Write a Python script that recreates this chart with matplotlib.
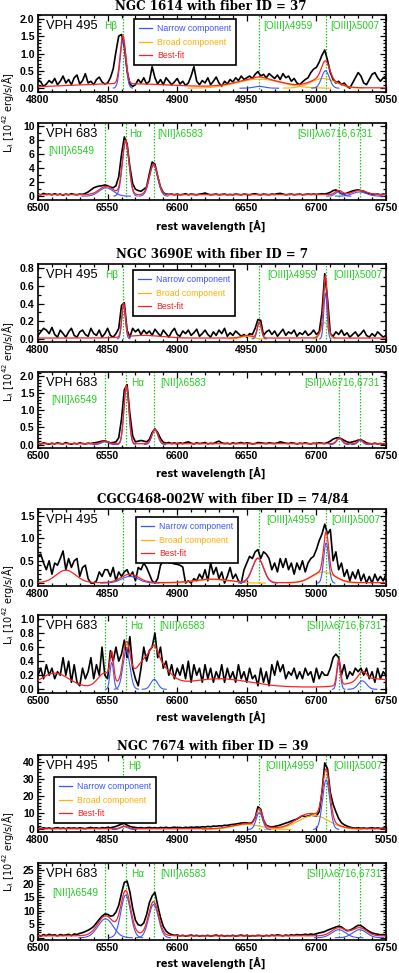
import numpy as np
import matplotlib
matplotlib.use('Agg')
import matplotlib.pyplot as plt
from matplotlib.ticker import MultipleLocator, FormatStrFormatter
from matplotlib.lines import Line2D

# ---------------- data ----------------
STEP = 2.0  # sampling of the observed spectra (Angstrom)

p1_flux = [  # NGC 1614, VPH 495, from 4800
    0.25, 0.18, 0.05, 0.12, 0.22, 0.15, 0.28, 0.10, 0.20, 0.35,
    0.15, 0.25, 0.10, 0.30, 0.38, 0.12, 0.22, 0.42, 0.15, 0.20,
    0.10, 0.25, 0.32, 0.18, 0.12, 0.15, 0.30, 0.55, 1.05, 1.50,
    1.55, 1.20, 0.50, 0.12, 0.05, 0.10, 0.25, 0.15, 0.30, 0.12,
    0.20, 0.62, 0.30, 0.12, 0.25, 0.10, 0.30, 0.20, 0.10, 0.18,
    0.28, 0.12, 0.20, 0.08, 0.15, 0.35, 0.62, 0.20, 0.10, 0.22,
    0.15, 0.30, 0.10, 0.20, 0.32, 0.15, 0.05, 0.20, 0.12, 0.25,
    0.18, 0.30, 0.22, 0.35, 0.25, 0.30, 0.35, 0.28, 0.40, 0.48,
    0.35, 0.40, 0.30, 0.42, 0.35, 0.28, 0.38, 0.25, 0.42, 0.30,
    0.35, 0.20, 0.28, 0.15, 0.10, 0.18, 0.25, 0.30, 0.45, 0.55,
    0.60, 0.75, 0.95, 1.10, 0.80, 0.45, 0.25, 0.15, 0.20, 0.10,
    0.15, 0.05, 0.00, 0.15, 0.30, 0.45, 0.35, 0.15, 0.10, 0.25,
    0.40, 0.45, 0.30, 0.20, 0.30, 0.35]
p2_flux = [  # NGC 1614, VPH 683, from 6500
    0.30, 0.20, 0.40, 0.25, 0.30, 0.20, 0.35, 0.20, 0.30, 0.15,
    0.30, 0.20, 0.35, 0.25, 0.20, 0.30, 0.25, 0.40, 0.60, 0.90,
    1.20, 1.35, 1.45, 1.50, 1.60, 1.50, 1.30, 1.20, 1.50, 2.80,
    6.00, 8.50, 7.50, 4.20, 1.80, 1.00, 0.80, 0.70, 1.00, 1.30,
    3.20, 4.90, 4.60, 2.80, 1.30, 0.50, 0.30, 0.25, 0.30, 0.20,
    0.30, 0.20, 0.25, 0.35, 0.20, 0.30, 0.25, 0.20, 0.30, 0.35,
    0.45, 0.30, 0.20, 0.25, 0.30, 0.20, 0.25, 0.30, 0.20, 0.25,
    0.20, 0.30, 0.25, 0.20, 0.30, 0.25, 0.20, 0.30, 0.35, 0.25,
    0.20, 0.30, 0.25, 0.20, 0.30, 0.25, 0.35, 0.40, 0.30, 0.20,
    0.25, 0.30, 0.20, 0.25, 0.30, 0.20, 0.25, 0.30, 0.25, 0.30,
    0.25, 0.30, 0.35, 0.30, 0.40, 0.55, 0.80, 0.90, 0.70, 0.35,
    0.30, 0.45, 0.60, 0.75, 0.85, 0.90, 0.80, 0.70, 0.50, 0.35,
    0.30, 0.25, 0.30, 0.20, 0.30, 0.25]
p3_flux = [  # NGC 3690E, VPH 495
    0.04, 0.08, 0.12, 0.10, 0.06, 0.13, 0.05, 0.02, 0.10, 0.06,
    0.02, 0.08, 0.12, 0.04, 0.02, 0.08, 0.10, 0.05, 0.03, 0.12,
    0.06, 0.04, 0.10, 0.02, 0.06, 0.12, 0.04, 0.02, 0.06, 0.12,
    0.38, 0.41, 0.10, 0.02, 0.12, 0.08, 0.11, 0.05, 0.10, 0.06,
    0.09, 0.04, 0.11, 0.07, 0.03, 0.10, 0.06, 0.02, 0.08, 0.12,
    0.05, 0.03, 0.09, 0.06, 0.10, 0.04, 0.07, 0.11, 0.03, 0.06,
    0.10, 0.05, 0.02, 0.08, 0.04, 0.10, 0.06, 0.12, 0.03, 0.07,
    0.04, 0.09, 0.06, 0.03, 0.05, 0.02, 0.06, 0.05, 0.12, 0.22,
    0.21, 0.04, 0.08, 0.10, 0.05, 0.09, 0.03, 0.07, 0.11, 0.04,
    0.08, 0.06, 0.10, 0.03, 0.07, 0.05, 0.09, 0.04, 0.06, 0.10,
    0.05, 0.08, 0.30, 0.74, 0.45, 0.06, 0.03, 0.08, 0.05, 0.10,
    0.04, 0.07, 0.02, 0.05, 0.08, 0.03, 0.06, 0.10, 0.04, 0.02,
    0.06, 0.03, 0.08, 0.05, 0.02, 0.04]
p4_flux = [  # NGC 3690E, VPH 683
    0.04, 0.02, 0.05, 0.03, 0.01, 0.04, 0.02, 0.05, 0.03, 0.02,
    0.06, 0.03, 0.01, 0.04, 0.02, 0.05, 0.03, 0.02, 0.04, 0.03,
    0.05, 0.06, 0.08, 0.10, 0.11, 0.08, 0.05, 0.06, 0.08, 0.20,
    0.75, 1.60, 1.75, 0.90, 0.25, 0.08, 0.10, 0.12, 0.10, 0.08,
    0.15, 0.35, 0.46, 0.35, 0.18, 0.07, 0.04, 0.06, 0.03, 0.05,
    0.02, 0.05, 0.03, 0.06, 0.08, 0.04, 0.02, 0.05, 0.03, 0.04,
    0.06, 0.02, 0.04, 0.03, 0.07, 0.10, 0.05, 0.03, 0.04, 0.02,
    0.05, 0.03, 0.04, 0.06, 0.03, 0.05, 0.04, 0.02, 0.03, 0.06,
    0.05, 0.04, 0.03, 0.05, 0.04, 0.03, 0.05, 0.08, 0.06, 0.04,
    0.03, 0.05, 0.04, 0.02, 0.04, 0.03, 0.05, 0.03, 0.02, 0.04,
    0.03, 0.05, 0.04, 0.03, 0.06, 0.10, 0.16, 0.19, 0.20, 0.17,
    0.12, 0.08, 0.06, 0.08, 0.10, 0.13, 0.14, 0.10, 0.05, 0.03,
    0.02, 0.04, 0.02, 0.03, 0.01, 0.03]
p5_flux = [  # CGCG468-002W, VPH 495
    0.60, 0.65, 0.45, 0.30, 0.50, 0.20, 0.45, 0.40, 0.55, 0.72,
    0.30, 0.55, 0.35, 0.50, 0.55, 0.15, 0.35, 0.40, 0.10, 0.00,
    0.00, 0.05, 0.25, 0.15, 0.30, 0.30, 0.15, 0.35, 0.05, 0.25,
    0.15, 0.25, 0.30, 0.15, 0.25, 0.05, 0.35, 0.30, 0.45, 0.35,
    0.20, 0.05, 0.00, 0.10, 0.40, 0.50, 0.48, 0.46, 0.45, 0.43,
    0.42, 0.40, 0.36, 0.00, 0.05, 0.00, 0.10, 0.05, 0.20, 0.10,
    0.30, 0.05, 0.45, 0.20, 0.35, 0.10, 0.25, 0.00, 0.15, 0.35,
    0.10, 0.20, 0.05, 0.00, 0.30, 0.45, 0.60, 0.55, 0.70, 0.75,
    0.55, 0.70, 0.65, 0.55, 0.30, 0.45, 0.25, 0.55, 0.35, 0.55,
    0.30, 0.45, 0.20, 0.45, 0.30, 0.50, 0.25, 0.45, 0.55, 0.60,
    0.75, 0.95, 1.10, 1.32, 1.10, 1.20, 0.50, 0.70, 0.30, 0.45,
    0.15, 0.30, 0.05, 0.25, 0.10, 0.30, 0.05, 0.20, 0.00, 0.15,
    0.00, 0.20, 0.05, 0.15, 0.05, 0.20]
p6_flux = [  # CGCG468-002W, VPH 683
    0.20, 0.30, 0.15, 0.35, 0.20, 0.30, 0.15, 0.25, 0.20, 0.45,
    0.20, 0.40, 0.10, 0.35, 0.10, 0.05, 0.30, 0.15, 0.25, 0.45,
    0.15, 0.35, 0.20, 0.60, 0.20, 0.15, 0.55, 0.40, 0.60, 0.40,
    0.50, 0.70, 0.45, 0.75, 0.30, 0.15, 0.05, 0.30, 0.60, 0.40,
    0.55, 0.60, 0.80, 0.45, 0.60, 0.30, 0.40, 0.20, 0.35, 0.15,
    0.30, 0.20, 0.35, 0.15, 0.40, 0.10, 0.35, 0.20, 0.30, 0.10,
    0.35, 0.15, 0.30, 0.10, 0.25, 0.15, 0.35, 0.10, 0.30, 0.15,
    0.25, 0.10, 0.35, 0.15, 0.25, 0.10, 0.30, 0.15, 0.20, 0.05,
    0.30, 0.10, 0.25, 0.05, 0.35, 0.20, 0.40, 0.25, 0.35, 0.15,
    0.25, 0.20, 0.30, 0.15, 0.25, 0.15, 0.30, 0.20, 0.25, 0.10,
    0.30, 0.15, 0.25, 0.20, 0.20, 0.30, 0.45, 0.50, 0.45, 0.20,
    0.35, 0.15, 0.25, 0.20, 0.30, 0.25, 0.30, 0.20, 0.30, 0.15,
    0.25, 0.10, 0.30, 0.15, 0.25, 0.20]
p7_flux = [  # NGC 7674, VPH 495
    0.8, 0.5, 1.0, 0.6, 0.9, 0.5, 0.8, 1.1, 0.6, 0.9,
    0.5, 1.0, 0.7, 0.9, 0.6, 1.0, 0.7, 0.5, 0.9, 1.2,
    0.8, 1.0, 0.6, 1.1, 0.9, 1.2, 1.0, 1.4, 1.8, 2.5,
    3.2, 3.6, 2.6, 1.8, 1.4, 1.2, 0.9, 1.1, 0.8, 1.0,
    1.2, 0.9, 1.1, 0.8, 1.2, 1.0, 1.3, 0.9, 1.1, 1.4,
    1.0, 1.2, 0.9, 1.3, 1.1, 1.4, 1.2, 1.5, 1.3, 1.6,
    1.5, 1.8, 1.6, 2.0, 1.9, 2.2, 2.1, 2.5, 2.4, 2.8,
    3.0, 3.2, 3.5, 3.8, 4.0, 3.9, 3.6, 4.2, 7.0, 13.5,
    12.0, 5.5, 2.5, 1.8, 1.5, 1.8, 2.2, 2.6, 3.2, 3.8,
    4.3, 5.0, 5.6, 6.2, 7.2, 8.2, 7.6, 8.0, 8.5, 8.3,
    8.0, 10.5, 22.0, 39.5, 36.0, 22.0, 15.0, 10.5, 6.5, 4.0,
    2.8, 2.0, 1.4, 1.0, 0.8, 1.0, 0.7, 0.9, 0.6, 0.8,
    1.0, 0.7, 0.9, 0.6, 0.8, 0.9]
p8_flux = [  # NGC 7674, VPH 683
    1.0, 0.6, 1.2, 0.8, 1.3, 0.9, 1.1, 0.7, 1.2, 0.9,
    1.0, 1.3, 0.8, 1.4, 1.2, 1.6, 1.9, 2.3, 2.8, 3.4,
    4.2, 5.5, 6.8, 8.0, 8.8, 8.7, 8.0, 8.2, 9.5, 12.0,
    16.5, 20.5, 21.0, 17.0, 11.0, 6.5, 4.8, 4.5, 5.5, 8.5,
    13.0, 15.5, 16.8, 12.0, 7.5, 4.2, 2.5, 1.6, 1.2, 0.9,
    1.0, 0.7, 0.9, 0.6, 0.8, 1.0, 0.7, 0.9, 0.6, 0.8,
    0.7, 0.9, 0.6, 0.8, 1.0, 0.7, 0.9, 0.6, 0.8, 0.7,
    0.9, 0.6, 0.8, 1.0, 0.7, 0.9, 0.6, 0.8, 0.7, 0.9,
    0.8, 0.6, 0.9, 0.7, 1.0, 0.8, 1.1, 0.9, 0.7, 1.0,
    0.8, 1.1, 0.9, 1.2, 1.0, 1.1, 1.3, 1.1, 1.4, 1.2,
    1.5, 1.8, 2.0, 2.3, 2.8, 3.2, 3.6, 4.0, 4.3, 4.0,
    3.2, 2.6, 2.8, 3.3, 4.0, 4.6, 4.5, 3.8, 3.0, 2.3,
    1.8, 1.5, 1.3, 1.1, 1.2, 1.0]

# fit components: (centre [A], amplitude, sigma [A])
p1_narrow = [(4861.0, 1.38, 2.0), (4959.0, 0.05, 4.0), (5006.5, 0.50, 2.8)]
p1_broad = [(4959.0, 0.26, 16.0), (5005.0, 0.28, 9.0)]
p1_extra = [(4861.0, 0.12, 38.0)]
p1_cont = 0.01
p2_narrow = [(6549.0, 1.2, 5.0), (6563.0, 7.8, 2.4), (6583.0, 4.4, 3.0),
             (6716.0, 0.6, 2.5), (6731.0, 0.6, 5.0)]
p2_broad = []
p2_extra = []
p2_cont = 0.22
p3_narrow = [(4861.5, 0.38, 1.3), (4959.0, 0.18, 1.5), (5006.5, 0.52, 1.2)]
p3_broad = [(4950.0, 0.03, 4.0), (5006.0, 0.19, 2.5)]
p3_extra = [(4876.0, 0.03, 12.0)]
p3_cont = 0.01
p4_narrow = [(6548.0, 0.08, 2.5), (6563.5, 1.70, 1.8), (6584.0, 0.42, 2.2),
             (6716.5, 0.17, 2.0), (6731.5, 0.12, 1.8)]
p4_broad = []
p4_extra = []
p4_cont = 0.025
p5_narrow = [(4866.0, 0.15, 6.0), (4958.0, 0.55, 4.0), (5007.0, 0.90, 1.8)]
p5_broad = [(4925.0, 0.08, 12.0), (5005.0, 0.25, 8.0)]
p5_extra = [(4820.0, 0.28, 7.0), (4866.0, 0.04, 8.0)]
p5_cont = 0.01
p6_narrow = [(6553.0, 0.38, 1.3), (6563.5, 0.55, 2.5), (6583.5, 0.14, 2.5),
             (6716.0, 0.37, 1.3), (6733.0, 0.12, 3.0)]
p6_broad = []
p6_extra = [(6512.0, 0.20, 10.0), (6548.0, 0.20, 5.0), (6581.0, 0.45, 10.0),
            (6630.0, 0.12, 22.0), (6742.0, 0.12, 15.0)]
p6_cont = 0.03
p7_narrow = [(4862.0, 1.6, 2.5), (4959.0, 10.0, 2.3), (5007.0, 29.5, 2.6)]
p7_broad = [(4950.0, 3.0, 10.0), (4998.0, 8.3, 11.0)]
p7_extra = [(4990.0, 1.5, 6.0)]
p7_cont = 0.4
p8_narrow = [(6548.5, 7.0, 5.5), (6563.0, 15.8, 3.5), (6583.0, 12.3, 3.5),
             (6716.0, 3.0, 5.0), (6731.0, 3.0, 5.0)]
p8_broad = []
p8_extra = [(6565.0, 0.8, 15.0)]
p8_cont = 0.7

titles = ["NGC 1614 with fiber ID = 37", "NGC 3690E with fiber ID = 7",
          "CGCG468-002W with fiber ID = 74/84", "NGC 7674 with fiber ID = 39"]
blue_lines = [4861, 4959, 5007]
red_lines = [6548, 6563, 6583, 6716, 6731]

# ---------------- style ----------------
BLUE = '#3a55ff'
ORANGE = '#ffb000'
RED = '#ff2020'
GREEN = '#22cc22'
SANS = 'Liberation Sans'

W, H = 399, 973
fig = plt.figure(figsize=(W / 100, H / 100), dpi=100)

def px_axes(top, bottom, left=38, right=386):
    return fig.add_axes([left / W, 1 - bottom / H, (right - left) / W, (bottom - top) / H])

def gauss(x, c, a, s):
    return a * np.exp(-0.5 * ((x - c) / s) ** 2)

panels = [
    dict(flux=p1_flux, nar=p1_narrow, bro=p1_broad, ext=p1_extra, cont=p1_cont, blue=True,
         box=(15, 92), ylim=(-0.11, 2.11), maj=0.5, mnr=0.1, fmt='%.1f',
         labels=[("H\u03b2", 4857, 0.86, 'right'), ("[OIII]\u03bb4959", 4962, 0.86, 'left'),
                 ("[OIII]\u03bb5007", 5010, 0.86, 'left')], leg=(0.276, 0.948)),
    dict(flux=p2_flux, nar=p2_narrow, bro=p2_broad, ext=p2_extra, cont=p2_cont, blue=False,
         box=(123, 200), ylim=(-0.55, 10.5), maj=2, mnr=1, fmt='%d',
         labels=[("H\u03b1", 6565.5, 0.86, 'left'), ("[NII]\u03bb6583", 6586, 0.86, 'left'),
                 ("[NII]\u03bb6549", 6507.5, 0.64, 'left'),
                 ("[SII]\u03bb\u03bb6716,6731", 6686.5, 0.86, 'left')], leg=None),
    dict(flux=p3_flux, nar=p3_narrow, bro=p3_broad, ext=p3_extra, cont=p3_cont, blue=True,
         box=(264, 342), ylim=(-0.035, 0.85), maj=0.2, mnr=0.1, fmt='%.1f',
         labels=[("H\u03b2", 4857.5, 0.86, 'right'), ("[OIII]\u03bb4959", 4964.5, 0.86, 'left'),
                 ("[OIII]\u03bb5007", 5012, 0.86, 'left')], leg=(0.273, 0.923)),
    dict(flux=p4_flux, nar=p4_narrow, bro=p4_broad, ext=p4_extra, cont=p4_cont, blue=False,
         box=(372, 448), ylim=(-0.1, 2.12), maj=0.5, mnr=0.1, fmt='%.1f',
         labels=[("H\u03b1", 6567, 0.86, 'left'), ("[NII]\u03bb6583", 6587.5, 0.86, 'left'),
                 ("[NII]\u03bb6549", 6509.5, 0.63, 'left'),
                 ("[SII]\u03bb\u03bb6716,6731", 6691, 0.86, 'left')], leg=None),
    dict(flux=p5_flux, nar=p5_narrow, bro=p5_broad, ext=p5_extra, cont=p5_cont, blue=True,
         box=(509, 586), ylim=(-0.065, 1.66), maj=0.5, mnr=0.1, fmt='%.1f',
         labels=[("[OIII]\u03bb4959", 4964, 0.86, 'left'),
                 ("[OIII]\u03bb5007", 5011, 0.86, 'left')], leg=(0.282, 0.896)),
    dict(flux=p6_flux, nar=p6_narrow, bro=p6_broad, ext=p6_extra, cont=p6_cont, blue=False,
         box=(615, 693), ylim=(-0.053, 1.057), maj=0.2, mnr=0.1, fmt='%.1f',
         labels=[("H\u03b1", 6566, 0.86, 'left'), ("[NII]\u03bb6583", 6587, 0.86, 'left'),
                 ("[SII]\u03bb\u03bb6716,6731", 6693, 0.86, 'left')], leg=None),
    dict(flux=p7_flux, nar=p7_narrow, bro=p7_broad, ext=p7_extra, cont=p7_cont, blue=True,
         box=(755, 832), ylim=(-1.5, 44.2), maj=10, mnr=2, fmt='%d',
         labels=[("H\u03b2", 4864.5, 0.86, 'left'), ("[OIII]\u03bb4959", 4963, 0.86, 'left'),
                 ("[OIII]\u03bb5007", 5012, 0.86, 'left')], leg=(0.046, 0.714)),
    dict(flux=p8_flux, nar=p8_narrow, bro=p8_broad, ext=p8_extra, cont=p8_cont, blue=False,
         box=(863, 940), ylim=(-0.83, 27.7), maj=5, mnr=1, fmt='%d',
         labels=[("H\u03b1", 6567, 0.86, 'left'), ("[NII]\u03bb6583", 6587.5, 0.86, 'left'),
                 ("[NII]\u03bb6549", 6510, 0.61, 'left'),
                 ("[SII]\u03bb\u03bb6716,6731", 6692.5, 0.86, 'left')], leg=None),
]

for i, p in enumerate(panels):
    ax = px_axes(*p['box'])
    x0 = 4800 if p['blue'] else 6500
    x1 = x0 + 250
    wave = x0 + STEP * np.arange(len(p['flux']))
    xm = np.linspace(x0, x1, 2001)

    model = np.full_like(xm, p['cont'])
    for c, a, s in p['nar'] + p['bro'] + p['ext']:
        model += gauss(xm, c, a, s)

    ax.plot(wave, p['flux'], color='black', lw=1.2, zorder=2)
    for c, a, s in p['bro']:
        m = np.abs(xm - c) < 3.2 * s
        ax.plot(xm[m], gauss(xm[m], c, a, s), color=ORANGE, lw=0.8, zorder=3)
    for c, a, s in p['nar']:
        m = np.abs(xm - c) < 3.5 * s
        ax.plot(xm[m], gauss(xm[m], c, a, s), color=BLUE, lw=0.8, zorder=4)
    ax.plot(xm, model, color=RED, lw=0.9, zorder=5)

    for lam in (blue_lines if p['blue'] else red_lines):
        ax.axvline(lam, color=GREEN, lw=0.9, ls=(0, (1.2, 1.2)), zorder=1)

    for txt, lam, yf, ha in p['labels']:
        ax.text(lam, yf, txt, transform=ax.get_xaxis_transform(), color=GREEN,
                fontsize=7.2, family=SANS, ha=ha, va='center', zorder=6)
    ax.text(0.022, 0.86, 'VPH 495' if p['blue'] else 'VPH 683', transform=ax.transAxes,
            fontsize=9.3, family=SANS, ha='left', va='center', zorder=6)

    ax.set_xlim(x0, x1)
    ax.set_ylim(*p['ylim'])
    ax.xaxis.set_major_locator(MultipleLocator(50))
    ax.xaxis.set_minor_locator(MultipleLocator(10))
    ax.yaxis.set_major_locator(MultipleLocator(p['maj']))
    ax.yaxis.set_minor_locator(MultipleLocator(p['mnr']))
    ax.yaxis.set_major_formatter(FormatStrFormatter(p['fmt']))
    ax.tick_params(which='both', direction='in', top=True, right=True, width=0.9)
    ax.tick_params(which='major', length=4.5, pad=2.5, labelsize=7.6)
    ax.tick_params(which='minor', length=2.3)
    for lab in ax.get_xticklabels() + ax.get_yticklabels():
        lab.set_family(SANS)
        lab.set_fontweight('bold')
    for sp in ax.spines.values():
        sp.set_linewidth(1.2)

    if p['leg'] is not None:
        handles = [Line2D([], [], color=BLUE, lw=0.9), Line2D([], [], color=ORANGE, lw=0.9),
                   Line2D([], [], color=RED, lw=0.9)]
        leg = ax.legend(handles, ['Narrow component', 'Broad component', 'Best-fit'],
                        loc='upper left', bbox_to_anchor=p['leg'], frameon=True,
                        fancybox=False, edgecolor='black', framealpha=1,
                        prop={'family': SANS, 'size': 6.3}, handlelength=1.5,
                        handletextpad=0.6, borderpad=0.55, labelspacing=0.55,
                        borderaxespad=0, labelcolor=[BLUE, ORANGE, RED])
        leg.get_frame().set_linewidth(1.2)
        leg.set_zorder(10)

# titles
title_pos = [(211, 6.5), (212, 254), (223, 500), (213, 746.5)]
for t, (xp, yp) in zip(titles, title_pos):
    fig.text(xp / W, 1 - yp / H, t, ha='center', va='center', family='DejaVu Serif',
             fontsize=8.6, fontweight='bold')

# x labels
for yp in (226, 473, 716.5, 963):
    fig.text(211 / W, 1 - yp / H, 'rest wavelength [\u00c5]', ha='center', va='center',
             family='DejaVu Sans', fontsize=7, fontweight='bold')

# y labels
ylab = 'L$_\\lambda$ [10$^{42}$ erg/s/\u00c5]'
for yp in (113, 362, 605, 852):
    fig.text(8 / W, 1 - yp / H, ylab, ha='center', va='center', rotation=90,
             family='DejaVu Sans', fontsize=7)

fig.savefig('out.png', dpi=100)
